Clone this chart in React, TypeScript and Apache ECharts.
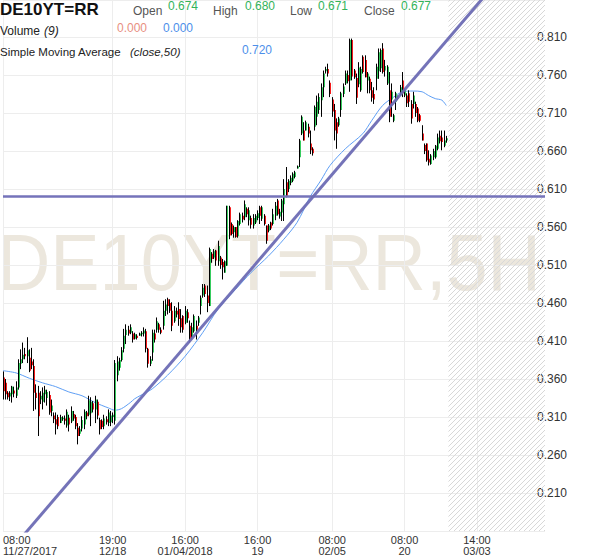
import React, { useEffect, useRef } from 'react';
import * as echarts from 'echarts';

// [open, close, low, high]
const decCandles: number[][] = [
  [0.362, 0.344, 0.333, 0.370], [0.355, 0.340, 0.333, 0.360], [0.342, 0.336, 0.333, 0.344], [0.337, 0.342, 0.331, 0.344],
  [0.340, 0.350, 0.329, 0.351], [0.345, 0.341, 0.336, 0.350], [0.338, 0.349, 0.335, 0.357], [0.349, 0.381, 0.346, 0.386],
  [0.380, 0.386, 0.373, 0.399], [0.386, 0.392, 0.381, 0.408], [0.393, 0.390, 0.386, 0.401], [0.390, 0.398, 0.381, 0.415],
  [0.388, 0.371, 0.369, 0.399], [0.383, 0.378, 0.373, 0.401], [0.377, 0.342, 0.318, 0.386], [0.342, 0.335, 0.320, 0.353],
  [0.342, 0.311, 0.285, 0.351], [0.333, 0.338, 0.327, 0.344], [0.330, 0.342, 0.320, 0.349], [0.340, 0.346, 0.329, 0.351],
  [0.335, 0.343, 0.325, 0.346], [0.339, 0.316, 0.313, 0.344], [0.318, 0.325, 0.311, 0.333], [0.312, 0.307, 0.302, 0.316],
  [0.307, 0.300, 0.287, 0.316], [0.310, 0.298, 0.294, 0.313], [0.302, 0.310, 0.302, 0.313], [0.307, 0.309, 0.305, 0.311],
  [0.308, 0.305, 0.300, 0.312], [0.299, 0.317, 0.296, 0.320], [0.309, 0.300, 0.291, 0.313], [0.304, 0.318, 0.302, 0.324],
  [0.314, 0.308, 0.305, 0.318], [0.310, 0.298, 0.294, 0.313], [0.296, 0.285, 0.274, 0.302], [0.288, 0.294, 0.285, 0.298],
  [0.295, 0.306, 0.291, 0.311], [0.300, 0.317, 0.294, 0.320], [0.316, 0.311, 0.307, 0.318], [0.313, 0.332, 0.311, 0.338],
  [0.315, 0.330, 0.298, 0.336], [0.328, 0.320, 0.316, 0.331], [0.320, 0.333, 0.302, 0.338], [0.330, 0.312, 0.307, 0.333],
  [0.306, 0.294, 0.287, 0.309], [0.305, 0.297, 0.294, 0.307], [0.298, 0.308, 0.294, 0.313], [0.307, 0.303, 0.300, 0.311],
  [0.302, 0.316, 0.298, 0.320], [0.303, 0.312, 0.298, 0.318], [0.310, 0.313, 0.302, 0.316], [0.305, 0.381, 0.300, 0.385],
  [0.365, 0.383, 0.357, 0.390], [0.375, 0.385, 0.371, 0.388], [0.385, 0.398, 0.383, 0.402], [0.400, 0.417, 0.395, 0.426],
  [0.418, 0.425, 0.406, 0.432], [0.425, 0.420, 0.417, 0.430], [0.421, 0.428, 0.419, 0.432], [0.420, 0.412, 0.408, 0.423],
  [0.413, 0.419, 0.412, 0.421], [0.417, 0.414, 0.412, 0.419], [0.417, 0.420, 0.417, 0.421], [0.419, 0.421, 0.416, 0.423],
  [0.420, 0.424, 0.416, 0.428], [0.423, 0.400, 0.395, 0.426], [0.400, 0.380, 0.375, 0.401], [0.380, 0.386, 0.377, 0.390],
];

const janCandles: number[][] = [
  [0.395, 0.421, 0.384, 0.425], [0.420, 0.412, 0.408, 0.425], [0.425, 0.436, 0.421, 0.441], [0.432, 0.425, 0.421, 0.434],
  [0.425, 0.421, 0.419, 0.428], [0.430, 0.450, 0.425, 0.463], [0.450, 0.458, 0.443, 0.465], [0.465, 0.456, 0.445, 0.467],
  [0.460, 0.450, 0.447, 0.465], [0.450, 0.430, 0.423, 0.461], [0.436, 0.450, 0.434, 0.456], [0.450, 0.445, 0.441, 0.454],
  [0.452, 0.439, 0.430, 0.461], [0.440, 0.428, 0.421, 0.452], [0.443, 0.425, 0.421, 0.444], [0.434, 0.450, 0.432, 0.456],
  [0.448, 0.440, 0.434, 0.452], [0.430, 0.412, 0.408, 0.437], [0.415, 0.428, 0.412, 0.434], [0.423, 0.443, 0.421, 0.445],
  [0.430, 0.425, 0.412, 0.437], [0.434, 0.441, 0.430, 0.443], [0.456, 0.467, 0.445, 0.470], [0.470, 0.480, 0.467, 0.485],
  [0.483, 0.472, 0.468, 0.485], [0.470, 0.460, 0.448, 0.483], [0.456, 0.531, 0.456, 0.533], [0.525, 0.518, 0.513, 0.527],
  [0.520, 0.528, 0.518, 0.531], [0.529, 0.516, 0.509, 0.530], [0.515, 0.535, 0.509, 0.542], [0.520, 0.510, 0.505, 0.522],
  [0.514, 0.507, 0.491, 0.518], [0.500, 0.515, 0.500, 0.516], [0.509, 0.588, 0.509, 0.588], [0.586, 0.549, 0.544, 0.588],
  [0.564, 0.551, 0.549, 0.566], [0.553, 0.560, 0.546, 0.562], [0.560, 0.547, 0.546, 0.560], [0.548, 0.568, 0.546, 0.569],
  [0.564, 0.577, 0.562, 0.579], [0.575, 0.570, 0.566, 0.579], [0.573, 0.590, 0.569, 0.595], [0.584, 0.577, 0.573, 0.586],
  [0.569, 0.582, 0.562, 0.586], [0.572, 0.563, 0.558, 0.575], [0.562, 0.572, 0.558, 0.577], [0.566, 0.575, 0.564, 0.577],
  [0.572, 0.578, 0.569, 0.582], [0.586, 0.575, 0.564, 0.588], [0.571, 0.586, 0.568, 0.588], [0.575, 0.564, 0.562, 0.577],
  [0.562, 0.542, 0.538, 0.562], [0.555, 0.562, 0.553, 0.564], [0.566, 0.558, 0.556, 0.567], [0.564, 0.577, 0.562, 0.584],
  [0.575, 0.588, 0.569, 0.593], [0.595, 0.577, 0.575, 0.597], [0.574, 0.580, 0.571, 0.584], [0.579, 0.595, 0.568, 0.597],
  [0.590, 0.610, 0.568, 0.623], [0.619, 0.601, 0.599, 0.639], [0.610, 0.621, 0.606, 0.623], [0.618, 0.625, 0.615, 0.628],
  [0.621, 0.630, 0.619, 0.632], [0.626, 0.632, 0.624, 0.634], [0.637, 0.640, 0.637, 0.641],
];

const febCandles: number[][] = [
  [0.652, 0.674, 0.639, 0.676], [0.683, 0.705, 0.681, 0.707], [0.687, 0.674, 0.674, 0.698], [0.687, 0.698, 0.687, 0.700],
  [0.692, 0.683, 0.678, 0.696], [0.670, 0.661, 0.656, 0.687], [0.663, 0.657, 0.654, 0.665], [0.692, 0.718, 0.687, 0.720],
  [0.705, 0.725, 0.694, 0.733], [0.714, 0.731, 0.709, 0.736], [0.727, 0.744, 0.705, 0.749], [0.744, 0.762, 0.731, 0.766],
  [0.765, 0.768, 0.762, 0.771], [0.768, 0.762, 0.758, 0.775], [0.750, 0.735, 0.731, 0.753], [0.728, 0.712, 0.705, 0.731],
  [0.714, 0.687, 0.674, 0.722], [0.698, 0.683, 0.663, 0.703], [0.694, 0.703, 0.692, 0.705], [0.714, 0.736, 0.705, 0.738],
  [0.735, 0.745, 0.731, 0.749], [0.749, 0.762, 0.747, 0.766], [0.760, 0.752, 0.749, 0.766], [0.753, 0.806, 0.738, 0.808],
  [0.806, 0.758, 0.753, 0.808], [0.766, 0.757, 0.755, 0.768], [0.756, 0.730, 0.722, 0.762], [0.748, 0.770, 0.744, 0.777],
  [0.740, 0.768, 0.738, 0.771], [0.784, 0.764, 0.762, 0.786], [0.780, 0.757, 0.757, 0.786], [0.753, 0.762, 0.736, 0.764],
  [0.755, 0.740, 0.736, 0.758], [0.740, 0.730, 0.725, 0.751], [0.735, 0.728, 0.722, 0.744], [0.755, 0.771, 0.740, 0.775],
  [0.765, 0.790, 0.755, 0.795], [0.769, 0.793, 0.764, 0.795], [0.795, 0.764, 0.762, 0.802], [0.766, 0.772, 0.758, 0.780],
  [0.749, 0.771, 0.747, 0.773], [0.740, 0.705, 0.698, 0.764], [0.728, 0.738, 0.705, 0.749], [0.700, 0.707, 0.698, 0.709],
  [0.725, 0.736, 0.714, 0.738], [0.732, 0.729, 0.727, 0.733], [0.734, 0.744, 0.733, 0.747], [0.753, 0.736, 0.731, 0.764],
  [0.733, 0.740, 0.731, 0.742], [0.733, 0.723, 0.718, 0.736], [0.736, 0.725, 0.718, 0.740], [0.722, 0.703, 0.696, 0.727],
  [0.722, 0.733, 0.716, 0.738], [0.722, 0.710, 0.705, 0.725], [0.716, 0.700, 0.698, 0.718], [0.707, 0.700, 0.698, 0.709],
  [0.683, 0.674, 0.674, 0.694], [0.668, 0.660, 0.656, 0.670], [0.670, 0.648, 0.646, 0.670], [0.650, 0.645, 0.641, 0.661],
  [0.643, 0.654, 0.642, 0.656], [0.652, 0.660, 0.648, 0.663], [0.652, 0.667, 0.650, 0.668], [0.663, 0.678, 0.661, 0.683],
  [0.680, 0.673, 0.670, 0.687], [0.678, 0.672, 0.661, 0.687], [0.667, 0.674, 0.665, 0.687], [0.674, 0.677, 0.671, 0.680],
];

const futureBars = 45;

const tickIdx = [0, 50, 83, 116, 150, 183, 216];
const tickLabels = ['08:00\n11/27/2017', '19:00\n12/18', '16:00\n01/04/2018', '16:00\n19', '08:00\n02/05', '08:00\n20', '14:00\n03/03'];

// SMA(close, 50) read at candle indices
const maIdx = [0, 6, 12, 18, 24, 30, 36, 42, 48, 51, 54, 58, 60, 65, 68, 75, 83, 91, 98, 106, 113, 121, 128, 134, 140, 145, 149, 156, 164, 168, 173, 178, 182, 187, 191, 194, 197, 200, 202];
const maVal = [0.371, 0.368, 0.361, 0.355, 0.350, 0.343, 0.338, 0.329, 0.322, 0.319, 0.321, 0.329, 0.334, 0.342, 0.347, 0.365, 0.390, 0.421, 0.452, 0.478, 0.500, 0.522, 0.544, 0.566, 0.600, 0.622, 0.641, 0.663, 0.683, 0.700, 0.720, 0.731, 0.738, 0.739, 0.738, 0.733, 0.729, 0.727, 0.720];

const trendAnchors = [[51, 0.295], [136, 0.582]];
const supportLevel = 0.603;

const lastOpen = 0.674, lastHigh = 0.68, lastLow = 0.671, lastClose = 0.677;
const volumeValues = [0.0, 0.0];
const smaLast = 0.72;

const GREEN = '#36cc5e';
const RED = '#f41c1c';
const FONT = '"Liberation Sans", Arial, sans-serif';

export default function App() {
  const ref = useRef<HTMLDivElement>(null);
  useEffect(() => {
    const chart = echarts.init(ref.current!, null, { renderer: 'svg' });
    const candles = [...decCandles, ...janCandles, ...febCandles];
    const D = candles.length;
    const N = D + futureBars;
    const categories = Array.from({ length: N }, (_, i) => String(i));
    const candleData = candles.map((c, i) => [i, c[0], c[1], c[2], c[3]]);
    const labelMap = new Map<number, string>(tickIdx.map((t, k) => [t, tickLabels[k]]));
    const isTick = (i: number) => labelMap.has(i);
    const [a, b] = trendAnchors;
    const slope = (b[1] - a[1]) / (b[0] - a[0]);
    const trendData = [[0, a[1] - a[0] * slope], [N - 1, a[1] + (N - 1 - a[0]) * slope]];
    const maData = maIdx.map((x, k) => [x, maVal[k]]);

    const canvas = document.createElement('canvas');
    canvas.width = 5; canvas.height = 5;
    const ctx = canvas.getContext('2d')!;
    ctx.strokeStyle = '#d8d8d8';
    ctx.lineWidth = 1;
    ctx.beginPath();
    ctx.moveTo(0, 5); ctx.lineTo(5, 0);
    ctx.moveTo(-1, 1); ctx.lineTo(1, -1);
    ctx.moveTo(4, 6); ctx.lineTo(6, 4);
    ctx.stroke();

    const txt = (text: string, x: number, y: number, fill: string, size = 12, extra: any = {}) => ({
      type: 'text', silent: true, z: 100,
      style: { text, x, y, fill, fontSize: size, fontFamily: FONT, verticalAlign: 'top', ...extra },
    });

    const option: any = {
      animation: false,
      grid: { left: 0, right: 55, top: 0, bottom: 27 },
      xAxis: {
        type: 'category', data: categories, boundaryGap: false,
        axisLine: { show: false }, axisTick: { show: false },
        axisLabel: {
          interval: (i: number) => isTick(i),
          formatter: (_v: string, i: number) => labelMap.get(i) || '',
          color: '#333', fontSize: 11, lineHeight: 11, margin: 3, fontFamily: FONT,
          alignMinLabel: 'left',
        },
        splitLine: { show: true, interval: (i: number) => isTick(i), lineStyle: { color: '#ededed' } },
      },
      yAxis: {
        type: 'value', position: 'right', min: 0.16, max: 0.8588, interval: 0.05,
        axisLine: { show: false }, axisTick: { show: false },
        axisLabel: {
          showMinLabel: false, showMaxLabel: false, margin: -8, color: '#333', fontSize: 12, fontFamily: FONT,
          formatter: (v: number) => v.toFixed(3),
        },
        splitLine: { lineStyle: { color: '#ededed' } },
      },
      graphic: [
        { type: 'text', silent: true, z: -5, x: -3, y: 223, scaleX: 0.935,
          style: { text: 'DE10YT=RR,5H', fontSize: 79, fontFamily: FONT, fill: '#ece7dd', verticalAlign: 'top' } },
        txt('DE10YT=RR', 0, 1, '#111', 17, { fontWeight: 'bold' }),
        txt('Open', 133, 4.5, '#555'),
        txt(lastOpen.toFixed(3), 168, 0, '#33b35a'),
        txt('High', 213, 4.5, '#555'),
        txt(lastHigh.toFixed(3), 245, 0, '#33b35a'),
        txt('Low', 290, 4.5, '#555'),
        txt(lastLow.toFixed(3), 318, 0, '#33b35a'),
        txt('Close', 364, 4.5, '#555'),
        txt(lastClose.toFixed(3), 401, 0, '#33b35a'),
        txt('Volume', 0, 24.5, '#222'),
        txt('(9)', 44, 24.5, '#222', 12, { fontStyle: 'italic' }),
        txt(volumeValues[0].toFixed(3), 117, 22, '#e8907f'),
        txt(volumeValues[1].toFixed(3), 163, 22, '#4d8fea'),
        txt('Simple Moving Average', 0, 45.5, '#222', 11.5),
        txt('(close,50)', 130, 45.5, '#222', 11.5, { fontStyle: 'italic' }),
        txt(smaLast.toFixed(3), 242, 44, '#4d8fea'),
      ],
      series: [
        {
          type: 'line', data: maData, smooth: 0.3, symbol: 'none', z: 3,
          lineStyle: { color: '#5f9ff5', width: 1 },
          markArea: {
            silent: true,
            itemStyle: { color: { image: canvas, repeat: 'repeat', imageWidth: 5, imageHeight: 5 } },
            data: [[{ xAxis: D }, { xAxis: N - 1 }]],
          },
          markLine: {
            silent: true, symbol: 'none',
            data: [
              { yAxis: supportLevel, lineStyle: { color: '#7573ba', width: 2.5, type: 'solid' }, label: { show: false } },
              {
                yAxis: lastClose, lineStyle: { opacity: 0, width: 0 },
                label: {
                  show: true, position: 'end', distance: -5, formatter: lastClose.toFixed(3),
                  backgroundColor: '#2ecc5e', color: '#fff', fontWeight: 'bold', fontSize: 12.5, fontFamily: FONT,
                  padding: [3, 18, 3, 10], lineHeight: 13, borderRadius: 2,
                },
              },
            ],
          },
        },
        {
          type: 'custom', z: 4, clip: true,
          data: candleData,
          encode: { x: 0, y: [1, 2, 3, 4] },
          renderItem: (_params: any, api: any) => {
            const idx = api.value(0);
            const o = api.value(1), c = api.value(2), l = api.value(3), h = api.value(4);
            const pO = api.coord([idx, o]);
            const pC = api.coord([idx, c]);
            const pL = api.coord([idx, l]);
            const pH = api.coord([idx, h]);
            const x = Math.floor(pO[0]);
            const up = c >= o;
            const top = Math.min(pO[1], pC[1]);
            const bh = Math.max(1, Math.abs(pO[1] - pC[1]));
            return {
              type: 'group',
              children: [
                { type: 'rect', shape: { x, y: top, width: 2, height: bh }, style: { fill: up ? GREEN : RED } },
                { type: 'line', shape: { x1: x + 0.5, y1: pH[1], x2: x + 0.5, y2: pL[1] }, style: { stroke: '#000', lineWidth: 1 } },
              ],
            };
          },
        },
        {
          type: 'line', data: trendData, symbol: 'none', z: 5, clip: true,
          lineStyle: { color: '#6d6bb4', width: 3, opacity: 0.95 },
        },
      ],
    };
    chart.setOption(option);
    return () => chart.dispose();
  }, []);
  return <div ref={ref} style={{ position: 'absolute', left: 0, top: 0, width: 600, height: 558 }} />;
}
